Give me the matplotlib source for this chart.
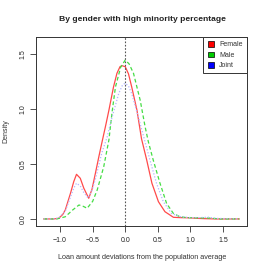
import numpy as np
import matplotlib.pyplot as plt
from matplotlib.patches import Patch

plt.rcParams['font.family'] = ['Liberation Sans', 'DejaVu Sans']

# density estimates
female_x = [-1.25, -1.1, -1.02, -0.96, -0.92, -0.84, -0.79, -0.748, -0.69, -0.636, -0.56,
            -0.51, -0.458, -0.4, -0.356, -0.3, -0.25, -0.18, -0.127, -0.08, -0.05, 0.0,
            0.05, 0.1, 0.18, 0.25, 0.33, 0.41, 0.51, 0.61, 0.74, 0.85, 1.0, 1.09, 1.2, 1.4, 1.75]
female_y = [0.0, 0.0, 0.006, 0.04, 0.082, 0.234, 0.34, 0.406, 0.37, 0.28, 0.188,
            0.27, 0.415, 0.58, 0.7, 0.85, 0.99, 1.2, 1.325, 1.385, 1.394, 1.385,
            1.32, 1.2, 0.99, 0.73, 0.536, 0.325, 0.157, 0.066, 0.015, 0.012, 0.01, 0.006, 0.003, 0.0, 0.0]

male_x = [-1.25, -1.05, -0.92, -0.81, -0.71, -0.645, -0.585, -0.5, -0.43, -0.33, -0.25,
          -0.2, -0.15, -0.07, 0.0, 0.06, 0.127, 0.23, 0.305, 0.356, 0.43, 0.534, 0.636,
          0.74, 0.84, 0.95, 1.1, 1.3, 1.45, 1.75]
male_y = [0.0, 0.0, 0.02, 0.08, 0.127, 0.115, 0.097, 0.16, 0.264, 0.475, 0.72,
          0.98, 1.2, 1.38, 1.445, 1.41, 1.325, 1.08, 0.84, 0.7, 0.536, 0.325, 0.14,
          0.05, 0.02, 0.012, 0.01, 0.008, 0.0, 0.0]

joint_x = [-1.25, -1.1, -1.02, -0.92, -0.84, -0.79, -0.748, -0.69, -0.636, -0.57,
           -0.51, -0.45, -0.36, -0.28, -0.2, -0.1, -0.04, 0.0, 0.05, 0.1, 0.2, 0.305,
           0.38, 0.48, 0.585, 0.71, 0.85, 1.0, 1.15, 1.27, 1.4, 1.75]
joint_y = [0.0, 0.0, 0.01, 0.07, 0.2, 0.28, 0.325, 0.3, 0.24, 0.19,
           0.26, 0.38, 0.6, 0.74, 0.93, 1.14, 1.22, 1.234, 1.21, 1.14, 0.93, 0.7,
           0.536, 0.325, 0.157, 0.05, 0.02, 0.012, 0.012, 0.016, 0.005, 0.0]

labels = ['Female', 'Male', 'Joint']
fills = ['#ff0000', '#00cc00', '#0000ff']

fig = plt.figure(figsize=(2.66, 2.73), dpi=100)
ax = fig.add_axes([0.1353, 0.1722, 0.7933, 0.6923])

ax.plot(female_x, female_y, color='#ff4a4a', lw=0.9, ls='-')
ax.plot(male_x, male_y, color='#44dd44', lw=0.9, ls=(0, (3, 2)))
ax.plot(joint_x, joint_y, color='#b4b4ff', lw=0.9, ls=(0, (1, 1.5)))
ax.axvline(0, color='#555555', lw=0.8, ls=(0, (1.5, 1.5)))

ax.set_xlim(-1.37, 1.87)
ax.set_ylim(-0.064, 1.655)
ax.set_xticks([-1.0, -0.5, 0.0, 0.5, 1.0, 1.5])
ax.set_yticks([0.0, 0.5, 1.0, 1.5])
ax.set_xticklabels(['\u22121.0', '\u22120.5', '0.0', '0.5', '1.0', '1.5'])
ax.tick_params(labelsize=5, length=4, width=0.6, color='#333333', labelcolor='#222222')
ax.tick_params(axis='x', pad=4)
ax.tick_params(axis='y', pad=3)
for t in ax.get_yticklabels():
    t.set_rotation(90)
    t.set_va('center')
for s in ax.spines.values():
    s.set_linewidth(0.7)
    s.set_color('#333333')

handles = [Patch(facecolor=c, edgecolor='black', linewidth=0.5) for c in fills]
leg = ax.legend(handles, labels, loc='upper right', borderaxespad=0, fontsize=5,
                fancybox=False, framealpha=1, edgecolor='#333333',
                handlelength=0.9, handleheight=0.9, handletextpad=0.8,
                labelspacing=0.45, borderpad=0.6, labelcolor='#333333')
leg.get_frame().set_linewidth(0.7)

fig.text(0.535, 0.930, 'By gender with high minority percentage', ha='center', va='center',
         fontsize=6.1, fontweight='bold', color='#222222')
fig.text(0.535, 0.055, 'Loan amount deviations from the population average', ha='center',
         va='center', fontsize=5.2, color='#333333')
fig.text(0.023, 0.518, 'Density', ha='center', va='center', rotation=90,
         fontsize=5, color='#333333')

fig.savefig('out.png', dpi=100)
